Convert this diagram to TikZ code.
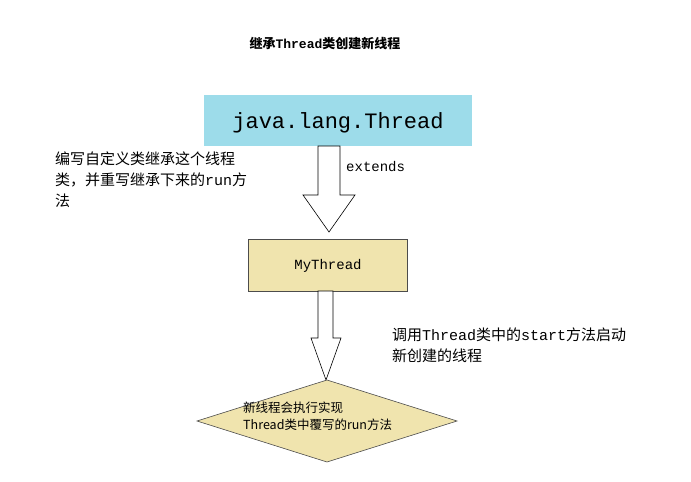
\documentclass[tikz,border=0pt]{standalone}
\usepackage{fontspec}
\newfontfamily\cjk{Noto Sans CJK SC}
\newfontfamily\mono{Liberation Mono}
\newcommand{\mtx}[1]{{\mono #1}}
\begin{document}
\begin{tikzpicture}[x=1pt,y=-1pt,
  box/.style={draw=black!70,line width=0.6pt},
  harrow/.style={draw=black,fill=white,line width=0.6pt},
  lbl/.style={inner sep=0,align=left,anchor=north west,font=\cjk\fontsize{15}{21}\selectfont}]
\useasboundingbox[fill=white] (0,0) rectangle (691,482);
\node[font=\cjk\bfseries\fontsize{13}{15}\selectfont] (title) at (325,43) {继承\mtx{Thread}类创建新线程};
\draw[box,fill={rgb,255:red,157;green,220;blue,234},draw=none] (204,95) rectangle (472,146);
\node[font=\mono\fontsize{22}{24}\selectfont] (jt) at (338,123) {java.lang.Thread};
\draw[box,fill={rgb,255:red,240;green,228;blue,174}] (248,239) rectangle (407,291);
\node[font=\mono\fontsize{14}{16}\selectfont] (mt) at (328,266) {MyThread};
\draw[harrow] (318,146) -- (340,146) -- (340,195) -- (355,195) -- (329,232) -- (303,195) -- (318,195) -- cycle;
\draw[harrow] (318,291) -- (333,291) -- (333,338) -- (341,338) -- (326,380) -- (311,338) -- (318,338) -- cycle;
\draw[box,fill={rgb,255:red,240;green,228;blue,174}] (327,380) -- (457,421) -- (327,462) -- (197,421) -- cycle;
\node[lbl,font=\cjk\fontsize{12.5}{17}\selectfont] (d) at (243,402) {新线程会执行实现\\Thread类中覆写的run方法};
\node[lbl] (l1) at (55,152) {编写自定义类继承这个线程\\类，并重写继承下来的\mtx{run}方\\法};
\node[lbl,font=\mono\fontsize{14}{16}\selectfont] (ext) at (346,161) {extends};
\node[lbl] (l2) at (392,328) {调用\mtx{Thread}类中的\mtx{start}方法启动\\新创建的线程};
\end{tikzpicture}
\end{document}
